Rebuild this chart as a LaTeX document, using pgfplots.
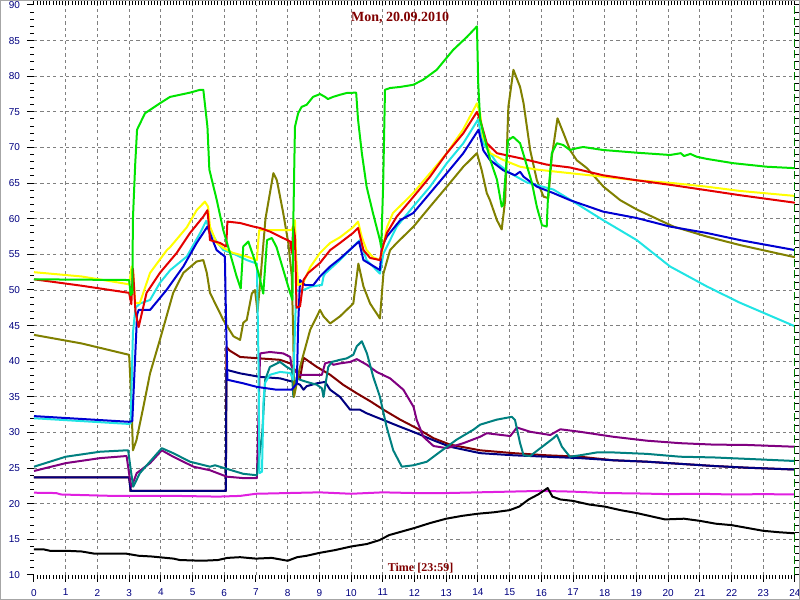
\documentclass[border=0pt]{standalone}
\usepackage{pgfplots}
\pgfplotsset{compat=1.18}
\usepackage{fontspec}
\setmainfont{Liberation Serif}
\newfontfamily\tickfont{Liberation Sans}
\definecolor{cgreen}{RGB}{0,228,0}
\definecolor{cyellow}{RGB}{255,255,0}
\definecolor{cred}{RGB}{228,0,0}
\definecolor{ccyan}{RGB}{32,228,228}
\definecolor{cblue}{RGB}{0,0,210}
\definecolor{colive}{RGB}{128,128,0}
\definecolor{cmaroon}{RGB}{128,0,0}
\definecolor{cnavy}{RGB}{0,0,128}
\definecolor{cpurple}{RGB}{128,0,128}
\definecolor{cteal}{RGB}{0,128,128}
\definecolor{cmagenta}{RGB}{224,32,224}
\definecolor{dkred}{RGB}{128,0,0}
\definecolor{dkgreen}{RGB}{0,128,0}
\begin{document}
\begin{tikzpicture}
\useasboundingbox (-17pt,-12.5pt) rectangle (383pt,287.5pt);
\begin{axis}[
  at={(0,0)}, anchor=south west,
  scale only axis, width=380.5pt, height=285pt,
  xmin=0, xmax=24, ymin=10, ymax=90,
  xtick={0,1,...,24}, ytick={10,15,...,90},
  minor x tick num=9, minor y tick num=4,
  axis line style={draw=none},
  tick align=outside, major tick length=3.5pt, minor tick length=1.8pt,
  tick style={black, line width=0.5pt},
  extra x ticks={1,2,...,23}, extra x tick labels={},
  extra y ticks={15,20,...,85}, extra y tick labels={},
  extra tick style={grid=major, major tick length=0pt},
  major grid style={gray, dash pattern=on 1.6pt off 1.6pt, line width=0.45pt},
  ticklabel style={font=\tickfont\fontsize{5}{6}\selectfont, text=cnavy},
  /pgf/number format/assume math mode=true,
  every axis plot/.append style={line width=1pt, line join=round, no markers},
]
\addplot[cmagenta] coordinates {(0,21.55)(0.7,21.5)(0.85,21.3)(2.5,21.1)(4.5,21.1)(5.8,21.0)(6.5,21.1)(7.0,21.4)(8,21.5)(9,21.6)(10,21.4)(11,21.6)(12,21.5)(13,21.5)(14,21.6)(15,21.7)(16,21.8)(17,21.7)(18,21.5)(19,21.45)(20,21.35)(21,21.4)(22,21.3)(23,21.35)(24,21.3)};
\addplot[black] coordinates {(0,13.6)(0.3,13.6)(0.5,13.4)(1.0,13.4)(1.5,13.3)(1.9,13.0)(2.9,13.0)(3.3,12.7)(3.7,12.6)(4.4,12.3)(4.6,12.1)(5.3,12.0)(5.8,12.1)(6.1,12.4)(6.5,12.5)(7.0,12.3)(7.5,12.4)(8.0,12.0)(8.3,12.5)(8.6,12.7)(9.0,13.1)(9.5,13.5)(10.0,14.0)(10.5,14.35)(10.9,14.9)(11.2,15.6)(11.6,16.1)(12.0,16.6)(12.5,17.3)(13.0,17.9)(13.5,18.3)(14.0,18.6)(14.5,18.8)(15.0,19.1)(15.3,19.6)(15.6,20.6)(15.9,21.3)(16.1,21.9)(16.2,22.2)(16.35,21.0)(16.6,20.6)(17.0,20.4)(17.5,19.9)(18.0,19.6)(18.5,19.1)(19.0,18.7)(19.5,18.2)(19.9,17.8)(20.5,17.9)(21.0,17.6)(21.5,17.2)(22.0,17.0)(22.5,16.6)(23.0,16.2)(23.5,16.0)(24,15.85)};
\addplot[cmaroon] coordinates {(0,23.7)(3.0,23.7)(3.05,21.8)(6.05,21.8)(6.07,42.0)(6.17,41.5)(6.50,40.6)(7.13,40.4)(7.76,40.2)(8.08,39.7)(8.29,38.4)(8.39,37.6)(8.50,40.5)(8.92,39.2)(9.34,38.1)(9.75,36.7)(10.18,35.5)(10.60,34.4)(11.02,33.2)(11.55,31.8)(12.07,30.6)(12.60,29.2)(13.12,28.3)(14.07,27.5)(15.12,27.1)(16.17,26.8)(17.22,26.6)(18.27,26.1)(19.33,25.9)(20.38,25.6)(21.43,25.3)(22.48,25.06)(24,24.8)};
\addplot[cnavy] coordinates {(0,23.7)(3.0,23.7)(3.05,21.8)(6.05,21.8)(6.07,38.8)(6.50,38.3)(7.13,37.8)(7.76,37.6)(8.18,37.1)(8.39,36.7)(8.50,36.0)(8.60,36.5)(8.92,36.9)(9.18,37.1)(9.34,36.0)(9.65,35.0)(9.97,33.2)(10.28,33.2)(10.49,32.7)(11.02,31.75)(11.55,30.8)(12.07,29.9)(12.60,28.9)(13.12,28.0)(14.07,27.1)(15.12,26.8)(16.17,26.6)(17.22,26.4)(18.27,26.1)(19.33,25.9)(20.38,25.6)(21.43,25.3)(22.48,25.06)(24,24.8)};
\addplot[cpurple] coordinates {(0,24.6)(1.0,25.7)(2.08,26.4)(2.92,26.7)(3.03,23.3)(3.08,22.4)(3.24,24.3)(3.66,25.7)(4.03,27.5)(4.39,26.6)(5.03,25.2)(5.55,24.7)(6.08,23.8)(6.60,23.6)(7.03,23.6)(7.13,41.1)(7.44,41.3)(7.86,41.1)(8.08,40.6)(8.13,39.2)(8.34,38.1)(8.92,38.1)(9.08,38.1)(9.18,39.7)(9.34,39.9)(9.44,39.5)(9.65,39.7)(9.97,39.9)(10.18,40.3)(10.50,39.5)(10.81,38.5)(11.23,37.6)(11.65,36.0)(11.97,33.6)(12.07,31.75)(12.28,29.4)(12.60,28.1)(13.02,27.8)(13.54,28.5)(14.07,29.4)(14.28,29.9)(15.02,29.5)(15.23,30.7)(15.65,30.1)(16.28,29.65)(16.60,30.45)(17.22,30.1)(18.27,29.4)(19.33,28.85)(20.38,28.5)(21.43,28.3)(22.48,28.25)(24,28.0)};
\addplot[cteal] coordinates {(0,25.2)(1.0,26.6)(2.08,27.3)(2.92,27.5)(2.97,27.5)(3.05,24.8)(3.13,22.4)(3.34,24.3)(4.03,27.8)(4.39,27.1)(4.92,25.9)(5.55,25.2)(5.71,25.4)(6.08,24.9)(6.60,24.2)(7.03,24.0)(7.2,30)(7.29,37.4)(7.44,39.2)(7.76,39.9)(7.97,39.2)(8.13,38.8)(8.18,35.0)(8.23,36.4)(8.29,37.8)(8.39,37.4)(8.60,37.1)(8.92,36.7)(9.08,36.2)(9.13,35.0)(9.18,36.4)(9.28,39.2)(9.39,39.9)(9.65,40.2)(9.86,40.4)(10.07,40.9)(10.18,42.1)(10.34,42.8)(10.50,41.1)(10.70,37.8)(10.91,35.0)(11.12,30.8)(11.33,27.5)(11.60,25.2)(11.97,25.4)(12.39,25.9)(12.81,27.3)(13.33,29.0)(13.86,30.4)(14.07,31.1)(14.59,31.8)(15.07,32.2)(15.17,31.75)(15.33,28.5)(15.44,26.8)(15.65,26.7)(15.97,27.8)(16.38,29.2)(16.49,29.65)(16.65,28.0)(16.90,26.6)(17.22,26.8)(17.75,27.2)(18.27,27.2)(19.33,27.0)(20.38,26.6)(21.43,26.5)(22.48,26.3)(24,26.0)};
\addplot[colive] coordinates {(0,43.7)(1.5,42.5)(3.0,40.9)(3.07,34.6)(3.12,27.5)(3.23,28.9)(3.45,33.6)(3.66,38.3)(3.97,43.0)(4.39,49.6)(4.71,52.4)(5.13,54.0)(5.34,54.2)(5.45,52.4)(5.55,49.6)(5.97,45.8)(6.29,43.5)(6.50,43.0)(6.60,45.4)(6.71,45.8)(6.87,49.5)(6.97,50.0)(7.05,47.0)(7.15,52.0)(7.30,60.0)(7.55,66.4)(7.66,65.4)(7.86,60.8)(8.02,56.6)(8.13,51.9)(8.18,43.0)(8.20,35.0)(8.39,39.2)(8.71,44.4)(9.02,47.2)(9.13,46.3)(9.34,45.3)(9.65,46.3)(10.07,48.1)(10.23,53.7)(10.39,50.5)(10.60,48.1)(10.91,46.0)(11.02,52.3)(11.23,55.6)(11.44,56.6)(11.97,58.9)(12.49,61.7)(13.02,64.5)(13.54,67.3)(13.97,69.2)(14.12,66.8)(14.28,63.6)(14.38,62.6)(14.60,59.8)(14.75,58.5)(14.86,62.6)(14.96,75.7)(15.12,80.9)(15.33,78.5)(15.44,76.2)(15.65,69.6)(15.86,65.4)(16.07,63.1)(16.22,62.9)(16.33,68.7)(16.51,74.1)(16.70,72.0)(16.91,69.6)(17.12,68.2)(17.44,67.1)(17.96,64.5)(18.49,62.6)(19.01,61.3)(20.17,58.9)(21.22,57.5)(22.27,56.3)(24,54.6)};
\addplot[ccyan] coordinates {(0,32.0)(1.5,31.6)(3.0,31.2)(3.05,31.3)(3.12,44.0)(3.2,47.5)(3.34,48.1)(3.66,48.6)(3.97,51.0)(4.3,52.8)(4.82,54.7)(5.24,58.0)(5.43,59.7)(5.55,58.4)(5.76,56.8)(5.97,55.6)(6.29,55.1)(6.71,54.2)(7.03,53.7)(7.08,40)(7.11,24.3)(7.19,24.5)(7.24,34.6)(7.29,37.0)(7.44,38.1)(7.76,38.5)(8.08,38.35)(8.18,37.4)(8.27,50.0)(8.39,49.8)(8.60,50.2)(8.76,50.5)(9.08,50.7)(9.13,51.9)(9.18,52.3)(9.65,54.2)(10.18,56.6)(10.28,57.0)(10.49,54.2)(10.91,52.3)(11.02,55.1)(11.44,58.9)(11.96,61.7)(12.49,64.5)(13.02,67.8)(13.54,70.6)(14.0,73.9)(14.17,70.6)(14.60,67.8)(15.02,66.4)(15.54,65.1)(16.38,64.1)(16.90,62.7)(17.95,59.8)(19.01,57.0)(20.06,53.3)(21.22,50.5)(22.27,48.2)(24,44.9)};
\addplot[cblue] coordinates {(0,32.3)(1.5,31.9)(3.0,31.5)(3.1,31.6)(3.25,46.5)(3.30,47.2)(3.66,47.2)(4.18,50.0)(4.71,53.3)(5.13,56.6)(5.47,58.9)(5.55,57.95)(5.76,55.6)(6.02,54.7)(6.06,45)(6.10,37.4)(6.60,36.9)(7.03,36.4)(7.66,36.0)(8.13,36.0)(8.29,36.9)(8.33,45)(8.39,51.4)(8.55,50.7)(8.81,50.7)(9.02,51.9)(9.34,53.3)(9.65,54.4)(10.25,56.8)(10.39,54.2)(10.91,52.8)(10.97,56.1)(11.13,57.5)(11.55,59.8)(11.96,60.8)(12.49,63.6)(13.02,66.4)(13.54,69.2)(14.02,72.5)(14.17,69.6)(14.38,68.25)(14.80,66.8)(15.17,66.1)(15.33,66.6)(15.44,65.9)(15.86,64.5)(16.38,63.6)(16.91,62.6)(17.95,61.0)(19.01,60.1)(20.06,58.9)(21.22,58.0)(22.27,57.0)(24,55.6)};
\addplot[cyellow] coordinates {(0,52.5)(1.5,51.9)(3.0,50.8)(3.08,53.3)(3.13,52.4)(3.19,48.2)(3.34,48.2)(3.66,52.4)(4.19,55.6)(4.29,56.0)(4.82,58.8)(5.13,61.2)(5.39,62.4)(5.49,61.7)(5.55,58.9)(5.76,56.6)(5.97,55.9)(6.28,55.2)(6.71,54.7)(7.03,54.2)(7.10,58.4)(8.13,58.4)(8.23,59.8)(8.26,55.2)(8.33,50.7)(8.49,51.0)(8.71,53.2)(9.02,55.2)(9.34,56.6)(9.65,57.4)(10.06,58.8)(10.22,59.6)(10.34,57.4)(10.49,55.6)(10.69,54.6)(10.91,54.2)(11.01,56.0)(11.13,58.8)(11.32,60.8)(11.96,63.6)(12.49,66.4)(13.02,69.2)(13.53,72.5)(13.97,76.2)(14.07,74.8)(14.16,71.5)(14.39,69.2)(14.80,68.25)(15.33,67.3)(15.86,66.9)(16.90,66.4)(17.95,65.9)(19.01,65.4)(20.16,65.0)(21.22,64.5)(22.27,63.9)(24,63.2)};
\addplot[cred] coordinates {(0,51.5)(1.5,50.6)(3.0,49.6)(3.07,48.0)(3.12,53.0)(3.2,47.0)(3.3,44.8)(3.55,49.6)(3.97,52.4)(4.5,55.2)(4.92,58.0)(5.34,60.3)(5.47,61.2)(5.50,59.8)(5.55,57.0)(5.71,56.8)(5.87,56.6)(6.06,56.1)(6.10,59.6)(6.50,59.4)(6.92,58.9)(7.13,58.7)(7.44,58.2)(7.76,57.5)(8.08,56.8)(8.13,55.2)(8.18,58.9)(8.23,57.5)(8.28,47.5)(8.39,47.7)(8.50,51.4)(8.65,52.4)(9.02,53.8)(9.34,55.6)(9.65,56.6)(10.06,58.0)(10.22,58.7)(10.39,55.6)(10.60,54.5)(10.91,54.2)(10.97,55.6)(11.13,58.0)(11.44,60.3)(11.96,63.05)(12.49,65.9)(13.02,69.2)(13.54,72.0)(13.97,75.0)(14.07,73.9)(14.28,70.6)(14.60,69.2)(15.33,68.5)(16.17,67.6)(16.90,67.2)(17.95,66.1)(19.01,65.4)(20.16,64.7)(21.22,64.0)(22.27,63.3)(24,62.25)};
\addplot[cgreen] coordinates {(0,51.5)(3.0,51.4)(3.05,49.3)(3.1,49.6)(3.12,60)(3.19,67.5)(3.25,72.5)(3.5,74.8)(3.97,76.2)(4.29,77.1)(4.92,77.7)(5.24,78.1)(5.34,78.1)(5.47,72.9)(5.53,66.9)(5.76,62.7)(5.97,58.4)(6.18,55.2)(6.39,51.9)(6.52,50.2)(6.60,56.1)(6.76,56.8)(6.92,54.7)(7.08,52.4)(7.23,49.5)(7.35,57.0)(7.5,57.3)(7.65,56.0)(7.85,53.0)(8.05,50.0)(8.15,48.6)(8.18,60)(8.23,72.9)(8.33,74.8)(8.44,75.7)(8.60,76.0)(8.80,77.1)(9.02,77.5)(9.18,77.1)(9.27,76.8)(9.43,77.1)(9.65,77.4)(9.86,77.65)(10.16,77.7)(10.22,73.9)(10.34,69.2)(10.49,64.5)(10.69,60.8)(10.91,57.0)(10.95,56.0)(11.01,64.5)(11.07,78.1)(11.23,78.35)(11.55,78.5)(11.96,78.8)(12.27,79.5)(12.70,80.9)(13.22,83.7)(13.65,85.5)(13.97,87.0)(14.01,79)(14.07,73.9)(14.23,71.0)(14.39,68.25)(14.60,65.5)(14.75,61.7)(14.80,62.0)(14.89,67.3)(14.95,71.0)(15.11,71.5)(15.33,70.6)(15.49,68.25)(15.70,65.1)(15.86,61.65)(16.02,59.1)(16.17,58.9)(16.21,63.05)(16.33,69.2)(16.49,70.6)(16.69,70.35)(16.90,69.65)(17.12,69.9)(17.32,70.07)(17.95,69.65)(19.01,69.27)(20.06,68.95)(20.4,69.2)(20.5,68.8)(20.7,69.1)(20.9,68.7)(21.22,68.4)(22.05,67.8)(23.11,67.3)(24,67.1)};
\addplot[dkgreen, line width=0.6pt, dash pattern=on 4pt off 1.5pt] coordinates {(24,10)(24,90)};
\node[font=\bfseries\fontsize{7}{8}\selectfont, text=dkred] at (rel axis cs:0.481,0.978) {Mon, 20.09.2010};
\node[font=\bfseries\fontsize{6}{7}\selectfont, text=dkred] at (rel axis cs:0.508,0.012) {Time [23:59]};
\node[font=\bfseries\fontsize{5.5}{6}\selectfont, text=dkred, rotate=90] at (rel axis cs:-0.0145,0.5) {°C};
\end{axis}
\draw[gray!70, line width=0.9pt] (-16.8pt,-12.3pt) rectangle (382.8pt,287.3pt);
\end{tikzpicture}
\end{document}
